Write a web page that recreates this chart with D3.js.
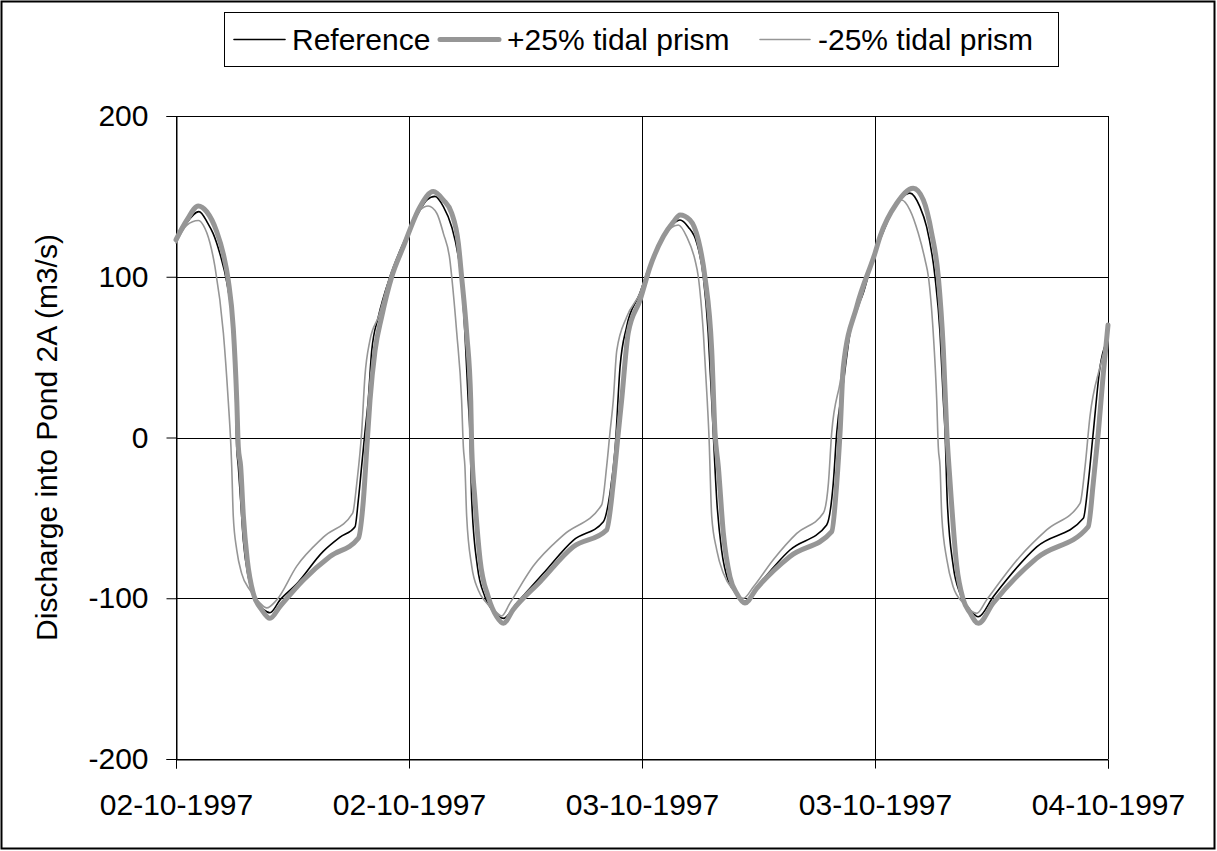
<!DOCTYPE html>
<html>
<head>
<meta charset="utf-8">
<script src="https://cdn.jsdelivr.net/npm/d3@7"></script>
<style>
  html, body { margin: 0; padding: 0; background: #fff; }
  svg { display: block; }
  text { font-family: "Liberation Sans", Arial, sans-serif; fill: #000; }
</style>
</head>
<body>
<svg id="chart" width="1217" height="851"></svg>
<script>
// ---- Data (hours since 02-10-1997 00:00, discharge in m3/s) ----
const seriesNames = ["Reference", "+25% tidal prism", "-25% tidal prism"];

const refHours = [0.00,0.52,1.18,1.65,1.91,2.27,2.61,2.87,3.04,3.13,3.21,3.33,3.47,3.72,4.07,4.50,4.84,5.36,6.22,7.57,8.45,9.22,9.39,9.56,9.73,9.90,10.08,10.42,11.02,11.71,12.57,12.91,13.34,13.77,14.20,14.54,14.68,14.88,15.05,15.14,15.23,15.52,15.91,16.43,16.86,17.55,18.92,20.46,22.01,22.35,22.61,22.87,23.21,23.90,24.24,24.93,25.61,25.96,26.38,26.82,27.16,27.41,27.59,27.67,27.85,28.10,28.44,28.88,29.30,29.91,31.62,33.51,33.85,34.03,34.37,34.71,35.40,36.00,36.26,36.94,37.80,38.31,38.66,39.09,39.35,39.52,39.61,39.72,40.03,40.38,40.89,41.32,42.09,44.33,46.73,46.98,47.24,47.59,47.93,48.00];
const refValues = [122,133,140.5,133,127,114,97,75,44,-6,-18,-39,-64,-86.6,-101,-107,-109,-101,-91,-71,-62,-55.5,-39,-18,3,23,54,75,100,121,141.5,147.7,150,143.6,131,112.5,100,65,23,3,-39,-80,-99,-109,-112.5,-103,-84.5,-64,-52.4,-34.7,-8,44,69,90,102,121,133,135.3,131,121,100,65,23,3,-39,-70,-89,-97,-102,-93,-70,-54.4,-28.5,3,34,65,90,114.7,123,141.5,152,143.6,131,100,65,23,3,-39,-80,-97,-107,-111.5,-99,-68,-50.3,-28.5,3,44,60,62];

const plusHours = [0.00,0.55,1.15,1.58,2.10,2.44,2.69,2.95,3.13,3.21,3.33,3.47,3.67,3.98,4.41,4.84,5.36,6.56,7.93,9.39,9.65,9.82,9.99,10.25,10.59,11.11,11.71,12.57,13.25,13.77,14.20,14.54,14.71,14.97,15.18,15.23,15.40,15.66,16.08,16.52,16.86,17.37,18.75,20.46,22.18,22.52,22.78,22.95,23.29,23.90,24.41,25.10,25.61,25.96,26.47,26.90,27.24,27.59,27.76,27.93,28.19,28.53,28.88,29.30,29.91,31.62,33.77,34.03,34.20,34.37,35.06,36.00,36.26,37.12,37.97,38.49,38.92,39.26,39.52,39.70,39.87,40.21,40.55,40.89,41.32,42.09,44.33,46.98,47.24,47.50,47.76,48.00];
const plusValues = [123,135,144,140.5,128,114,98,68,23,-6,-18,-49,-76,-97,-107,-112.5,-105,-88.6,-74,-62.7,-39,-8,23,54,75,100,118.7,143.6,153,147.7,139.5,121,100,65,23,-6,-39,-76,-99,-111.5,-115.6,-107,-89.7,-68,-57.5,-28.5,3,23,65,85.5,106,125,134,138.4,135.3,122.9,100,54.4,3,-18,-59.6,-86.6,-97,-103,-93.8,-74,-58.6,-28.5,3,44,81.4,114.7,125,145.7,155,147.7,127,100,54.4,3,-28.5,-80,-101,-109,-115.6,-103,-75,-55.5,-28.5,3,40,70];

const minusHours = [0.00,0.55,1.15,1.41,1.75,2.01,2.44,2.69,2.83,2.87,2.95,3.13,3.38,3.81,4.33,4.67,5.19,6.22,7.59,9.10,9.31,9.56,9.73,9.99,10.42,11.02,11.71,12.57,12.99,13.43,13.77,14.11,14.20,14.46,14.71,14.80,14.88,14.97,15.23,15.57,16.00,16.52,16.77,17.20,18.40,19.95,21.92,22.18,22.35,22.52,22.70,23.21,23.90,24.24,25.10,25.87,26.30,26.73,26.90,27.16,27.36,27.47,27.50,27.59,27.85,28.19,28.70,29.22,29.73,30.76,31.97,33.34,33.60,33.77,34.20,34.54,35.23,36.00,36.77,37.37,37.80,38.23,38.58,38.75,39.00,39.18,39.26,39.35,39.44,39.70,40.03,40.55,41.24,41.75,43.47,44.84,46.56,46.82,47.07,47.59,48.00];
const minusValues = [121,132,135,132,121,106,65,23,-6,-18,-49,-70,-84.5,-95,-103,-106,-101,-80,-62,-47,-28.5,3,38,60.6,75,100,118,141.5,144,139.5,127,110,100,65,23,-6,-18,-49,-80,-95,-103,-109,-111,-103,-80,-60.7,-42,-18,3,23,54,75,90,102,125,132.2,125,110.4,100,65,23,-6,-18,-49,-70,-84.5,-95,-100,-93,-76,-59.6,-47,-28.5,3,34,58.6,84,114.7,139.5,147.7,141.5,127,110.4,100,65,23,-6,-18,-49,-76,-93,-103,-109.4,-101,-74,-57.5,-41,-18,13,44,62];

const xTickHours = [0, 12, 24, 36, 48];
const xTickLabels = ["02-10-1997", "02-10-1997", "03-10-1997", "03-10-1997", "04-10-1997"];
const yTicks = [-200, -100, 0, 100, 200];
const yTickLabels = ["-200", "-100", "0", "100", "200"];
const yTitle = "Discharge into Pond 2A (m3/s)";

// ---- Layout ----
const svg = d3.select("#chart");
const W = 1217, H = 851;
const plot = { left: 176, right: 1108, top: 116, bottom: 759 };
const start = new Date(1997, 9, 2, 0, 0, 0);
const toDate = h => new Date(start.getTime() + h * 3600 * 1000);

const x = d3.scaleTime().domain([toDate(0), toDate(48)]).range([plot.left, plot.right]);
const y = d3.scaleLinear().domain([-200, 200]).range([plot.bottom, plot.top]);

// outer border
svg.append("rect").attr("x", 1.5).attr("y", 1.5).attr("width", W - 4).attr("height", H - 4)
  .attr("fill", "#fff").attr("stroke", "#000").attr("stroke-width", 2);

// grid
const g = svg.append("g");
g.selectAll("line.hg").data(yTicks).enter().append("line")
  .attr("x1", plot.left).attr("x2", plot.right)
  .attr("y1", d => Math.round(y(d)) + 0.5).attr("y2", d => Math.round(y(d)) + 0.5)
  .attr("stroke", "#000").attr("stroke-width", 1);
g.selectAll("line.vg").data(xTickHours).enter().append("line")
  .attr("y1", plot.top).attr("y2", plot.bottom)
  .attr("x1", d => Math.round(x(toDate(d))) + 0.5).attr("x2", d => Math.round(x(toDate(d))) + 0.5)
  .attr("stroke", "#000").attr("stroke-width", 1);

// axes
const yAxis = d3.axisLeft(y).tickValues(yTicks).tickSize(10).tickPadding(18)
  .tickFormat((d, i) => yTickLabels[i]);
const ya = svg.append("g").attr("transform", `translate(${plot.left + 0.5},0)`).call(yAxis);
ya.select(".domain").attr("stroke", "#000");
ya.selectAll(".tick line").attr("stroke", "#000");
ya.selectAll("text").style("font-size", "30px").attr("fill", "#000").attr("font-family", "Liberation Sans, Arial, sans-serif");

const xAxis = d3.axisBottom(x).tickValues(xTickHours.map(toDate)).tickSize(9).tickPadding(25)
  .tickFormat((d, i) => xTickLabels[i]);
const xa = svg.append("g").attr("transform", `translate(0,${plot.bottom + 0.5})`).call(xAxis);
xa.select(".domain").attr("stroke", "#000");
xa.selectAll(".tick line").attr("stroke", "#000");
xa.selectAll("text").style("font-size", "30px").attr("fill", "#000").attr("font-family", "Liberation Sans, Arial, sans-serif");

// y title
svg.append("text")
  .attr("transform", `translate(57,${(plot.top + plot.bottom) / 2}) rotate(-90)`)
  .attr("text-anchor", "middle")
  .style("font-size", "30px")
  .text(yTitle);

// series
const series = [
  { name: seriesNames[0], hours: refHours, values: refValues, color: "#000000", width: 1.6 },
  { name: seriesNames[1], hours: plusHours, values: plusValues, color: "#969696", width: 5 },
  { name: seriesNames[2], hours: minusHours, values: minusValues, color: "#969696", width: 1.6 }
];
const line = d3.line().x(d => x(toDate(d.t))).y(d => y(d.v)).curve(d3.curveMonotoneX);
svg.append("defs").append("clipPath").attr("id", "clip").append("rect")
  .attr("x", plot.left - 3).attr("y", plot.top).attr("width", plot.right - plot.left + 6).attr("height", plot.bottom - plot.top);
const lg = svg.append("g").attr("clip-path", "url(#clip)");
series.forEach(s => {
  const pts = s.hours.map((h, i) => ({ t: h, v: s.values[i] }));
  lg.append("path").datum(pts).attr("d", line)
    .attr("fill", "none").attr("stroke", s.color).attr("stroke-width", s.width)
    .attr("stroke-linejoin", "round").attr("stroke-linecap", "round");
});

// legend
const leg = svg.append("g");
leg.append("rect").attr("x", 224.5).attr("y", 12.5).attr("width", 834).attr("height", 54)
  .attr("fill", "#fff").attr("stroke", "#000").attr("stroke-width", 1);
const legItems = [
  { s: series[0], x0: 234, x1: 285, tx: 292 },
  { s: series[1], x0: 440, x1: 499, tx: 507 },
  { s: series[2], x0: 760, x1: 810, tx: 818 }
];
legItems.forEach(it => {
  leg.append("line").attr("x1", it.x0).attr("x2", it.x1).attr("y1", 39.5).attr("y2", 39.5)
    .attr("stroke", it.s.color).attr("stroke-width", it.s.width).attr("stroke-linecap", "round");
  leg.append("text").attr("x", it.tx).attr("y", 50).style("font-size", "30px").text(it.s.name);
});
</script>
</body>
</html>
